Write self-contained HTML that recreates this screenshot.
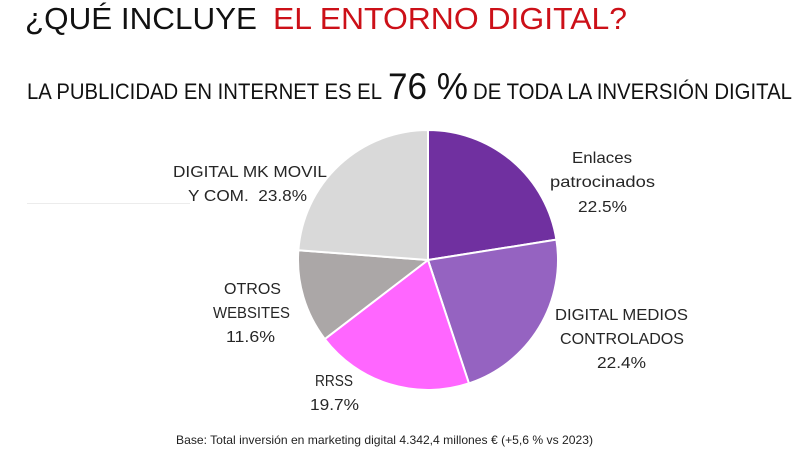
<!DOCTYPE html>
<html>
<head>
<meta charset="utf-8">
<style>
  html, body { margin: 0; padding: 0; background: #ffffff; }
  body { width: 800px; height: 450px; overflow: hidden; }
  svg { display: block; }
  text { font-family: "Liberation Sans", "DejaVu Sans", sans-serif; }
</style>
</head>
<body>
<svg width="800" height="450" viewBox="0 0 800 450" xmlns="http://www.w3.org/2000/svg">
  <rect x="0" y="0" width="800" height="450" fill="#ffffff"/>

  <!-- Title -->
  <text x="25" y="29" font-size="31" fill="#111111" textLength="232" lengthAdjust="spacingAndGlyphs">¿QUÉ INCLUYE</text>
  <text x="273" y="29" font-size="31" fill="#cc1018" textLength="354" lengthAdjust="spacingAndGlyphs">EL ENTORNO DIGITAL?</text>

  <!-- Subtitle -->
  <text x="27" y="99" font-size="22" fill="#111111" textLength="355" lengthAdjust="spacingAndGlyphs">LA PUBLICIDAD EN INTERNET ES EL</text>
  <text x="388" y="99" font-size="37" fill="#111111" textLength="80" lengthAdjust="spacingAndGlyphs">76 %</text>
  <text x="473" y="99" font-size="22" fill="#111111" textLength="319" lengthAdjust="spacingAndGlyphs">DE TODA LA INVERSIÓN DIGITAL</text>

  <!-- faint line -->
  <line x1="27" y1="203.5" x2="190" y2="203.5" stroke="#ececec" stroke-width="1"/>

  <!-- Pie -->
  <g stroke="#ffffff" stroke-width="2" stroke-linejoin="round">
    <path d="M428,260 L428,130 A130,130 0 0,1 556.40,239.66 Z" fill="#7030a0"/>
    <path d="M428,260 L556.40,239.66 A130,130 0 0,1 468.95,383.38 Z" fill="#9563c1"/>
    <path d="M428,260 L468.95,383.38 A130,130 0 0,1 324.79,339.05 Z" fill="#ff66ff"/>
    <path d="M428,260 L324.79,339.05 A130,130 0 0,1 298.37,250.21 Z" fill="#aba7a7"/>
    <path d="M428,260 L298.37,250.21 A130,130 0 0,1 428,130 Z" fill="#d9d9d9"/>
  </g>

  <!-- Labels -->
  <g font-size="16" fill="#262626">
    <text x="173" y="177" textLength="154" lengthAdjust="spacingAndGlyphs">DIGITAL MK MOVIL</text>
    <text x="188" y="201" textLength="119" lengthAdjust="spacingAndGlyphs" style="white-space:pre">Y COM.  23.8%</text>

    <text x="572" y="163" textLength="60" lengthAdjust="spacingAndGlyphs">Enlaces</text>
    <text x="550" y="187" textLength="105" lengthAdjust="spacingAndGlyphs">patrocinados</text>
    <text x="578" y="212" textLength="49" lengthAdjust="spacingAndGlyphs">22.5%</text>

    <text x="555" y="320" textLength="133" lengthAdjust="spacingAndGlyphs">DIGITAL MEDIOS</text>
    <text x="560" y="344" textLength="124" lengthAdjust="spacingAndGlyphs">CONTROLADOS</text>
    <text x="597" y="368" textLength="49" lengthAdjust="spacingAndGlyphs">22.4%</text>

    <text x="224" y="294" textLength="57" lengthAdjust="spacingAndGlyphs">OTROS</text>
    <text x="213" y="318" textLength="77" lengthAdjust="spacingAndGlyphs">WEBSITES</text>
    <text x="226" y="342" textLength="49" lengthAdjust="spacingAndGlyphs">11.6%</text>

    <text x="315" y="386" textLength="38" lengthAdjust="spacingAndGlyphs">RRSS</text>
    <text x="310" y="410" textLength="49" lengthAdjust="spacingAndGlyphs">19.7%</text>
  </g>

  <!-- Footer -->
  <text x="176" y="444" font-size="12" fill="#222222" textLength="417" lengthAdjust="spacingAndGlyphs">Base: Total inversión en marketing digital 4.342,4 millones € (+5,6 % vs 2023)</text>
</svg>
</body>
</html>
